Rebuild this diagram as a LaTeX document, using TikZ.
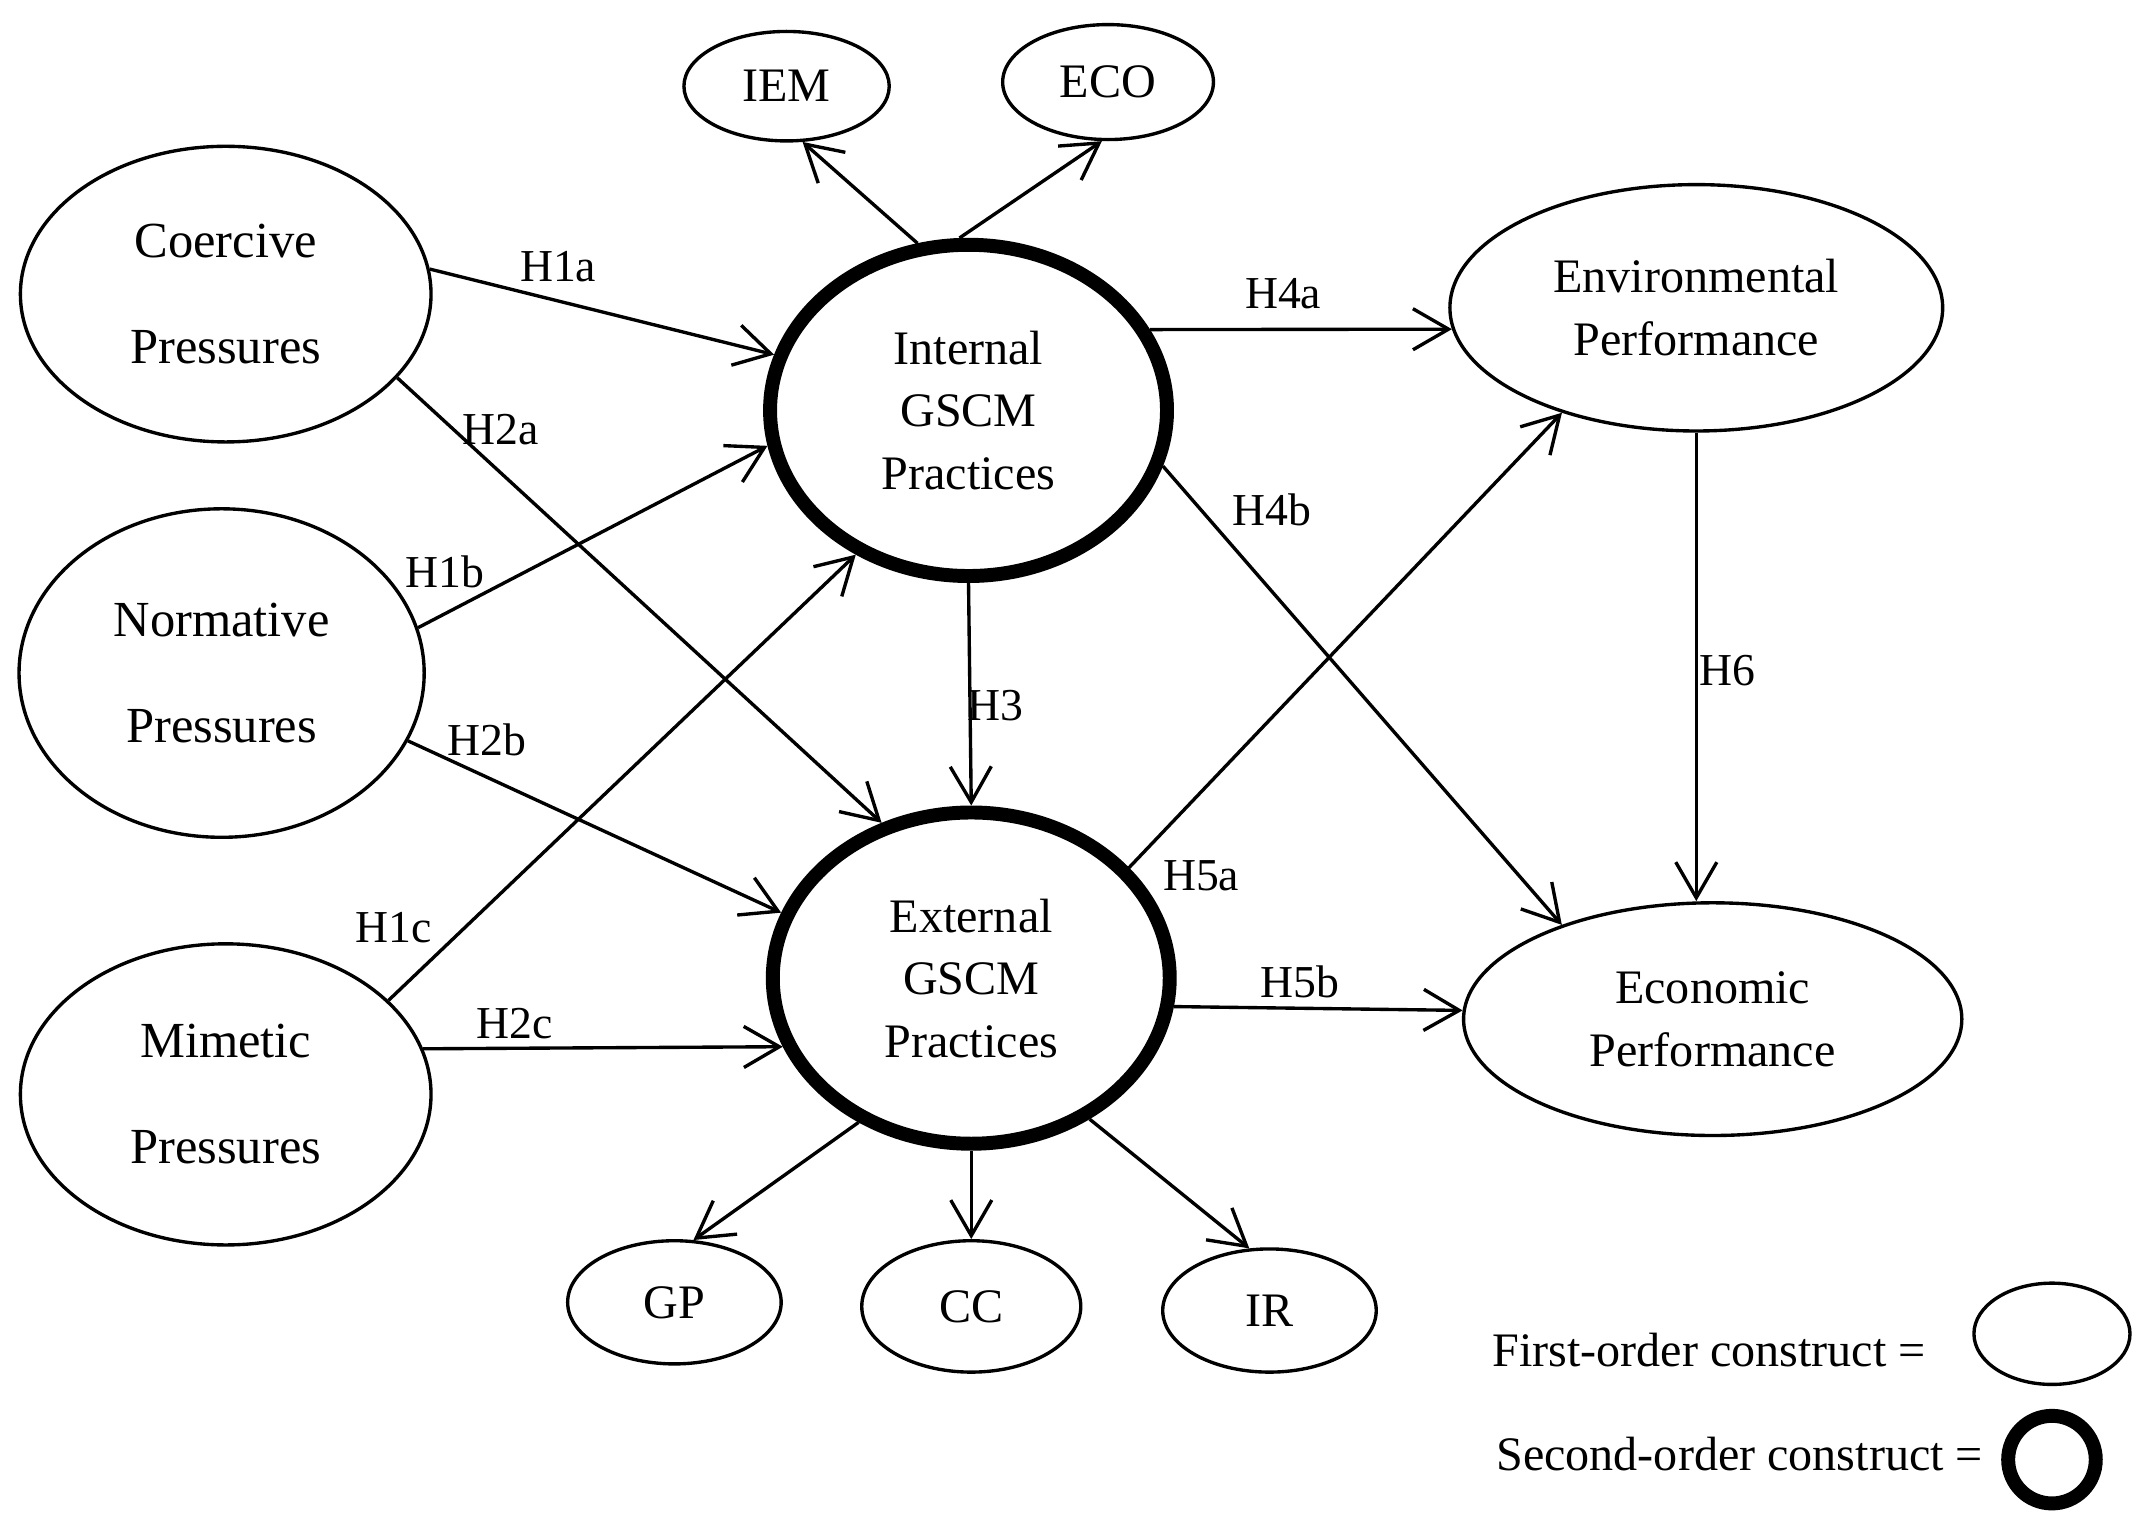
\documentclass[tikz,border=0pt]{standalone}
\usepackage{fontspec}
\setmainfont{Liberation Serif}
\usetikzlibrary{shapes.geometric,arrows.meta}
\begin{document}
\begin{tikzpicture}[x=0.01cm,y=-0.01cm,
  el/.style={ellipse,draw,line width=0.7pt,inner sep=0pt,align=center},
  so/.style={el,line width=2.9pt},
  arr/.style={-{Straight Barb[length=2.6mm,width=3mm]},line width=0.7pt},
  lab/.style={font=\fontsize{9.5}{11}\selectfont,inner sep=1pt},
  big/.style={font=\fontsize{10.5}{22}\selectfont},
  mid/.style={font=\fontsize{10}{13}\selectfont}]
\useasboundingbox (0,0) rectangle (1568,1118);
\node[el,big,minimum width=3cm,minimum height=2.16cm] (co) at (165,215) {Coercive\\Pressures};
\node[el,big,minimum width=2.96cm,minimum height=2.4cm] (no) at (162,492) {Normative\\Pressures};
\node[el,big,minimum width=3cm,minimum height=2.2cm] (mi) at (165,800) {Mimetic\\Pressures};
\node[so,mid,minimum width=2.9cm,minimum height=2.42cm] (in) at (708,300) {Internal\\GSCM\\Practices};
\node[so,mid,minimum width=2.9cm,minimum height=2.42cm] (ex) at (710,715) {External\\GSCM\\Practices};
\node[el,mid,minimum width=1.5cm,minimum height=0.8cm] (iem) at (575,63) {IEM};
\node[el,mid,minimum width=1.54cm,minimum height=0.84cm] (eco) at (810,60) {ECO};
\node[el,mid,minimum width=3.6cm,minimum height=1.8cm] (env) at (1240,225) {Environmental\\Performance};
\node[el,mid,minimum width=3.64cm,minimum height=1.7cm] (ecn) at (1252,745) {Economic\\Performance};
\node[el,mid,minimum width=1.56cm,minimum height=0.9cm] (gp) at (493,952) {GP};
\node[el,mid,minimum width=1.6cm,minimum height=0.96cm] (cc) at (710,955) {CC};
\node[el,mid,minimum width=1.56cm,minimum height=0.9cm] (ir) at (928,958) {IR};
\node[el,minimum width=1.14cm,minimum height=0.74cm] (l1) at (1500,975) {};
\node[so,minimum width=0.64cm,minimum height=0.64cm] (l2) at (1500,1067) {};
\node[mid,anchor=east] (t1) at (1420,987) {First-order construct =};
\node[mid,anchor=east] (t2) at (1462,1063) {Second-order construct =};

\draw[arr] (co.7) -- (in.164);
\draw[arr] (co.-26) -- (ex.120);
\draw[arr] (no.13) -- (in.190);
\draw[arr] (no.-20) -- (ex.161);
\draw[arr] (mi.30) -- (in.232);
\draw[arr] (mi.13) -- (ex.200);
\draw[arr] (in.south) -- (ex.north);
\draw[arr] (in.24) -- (env.185);
\draw[arr] (in.-16) -- (ecn.148);
\draw[arr] (ex.35) -- (env.218);
\draw[arr] (ex.-8) -- (ecn.178);
\draw[arr] (env.south) -- (env.south |- ecn.north);
\draw[arr] (in.107) -- (iem.-74);
\draw[arr] (in.93) -- (eco.-96);
\draw[arr] (ex.232) -- (gp.73);
\draw[arr] (ex.south) -- (cc.north);
\draw[arr] (ex.-50) -- (ir.108);

\node[lab] (h1a) at (408,195) {H1a};
\node[lab] (h2a) at (366,314) {H2a};
\node[lab] (h1b) at (325,418) {H1b};
\node[lab] (h2b) at (356,541) {H2b};
\node[lab] (h1c) at (288,678) {H1c};
\node[lab] (h2c) at (376,748) {H2c};
\node[lab] (h3) at (728,516) {H3};
\node[lab] (h4a) at (938,215) {H4a};
\node[lab] (h4b) at (930,373) {H4b};
\node[lab] (h5a) at (878,640) {H5a};
\node[lab] (h5b) at (950,718) {H5b};
\node[lab] (h6) at (1263,490) {H6};
\end{tikzpicture}
\end{document}
